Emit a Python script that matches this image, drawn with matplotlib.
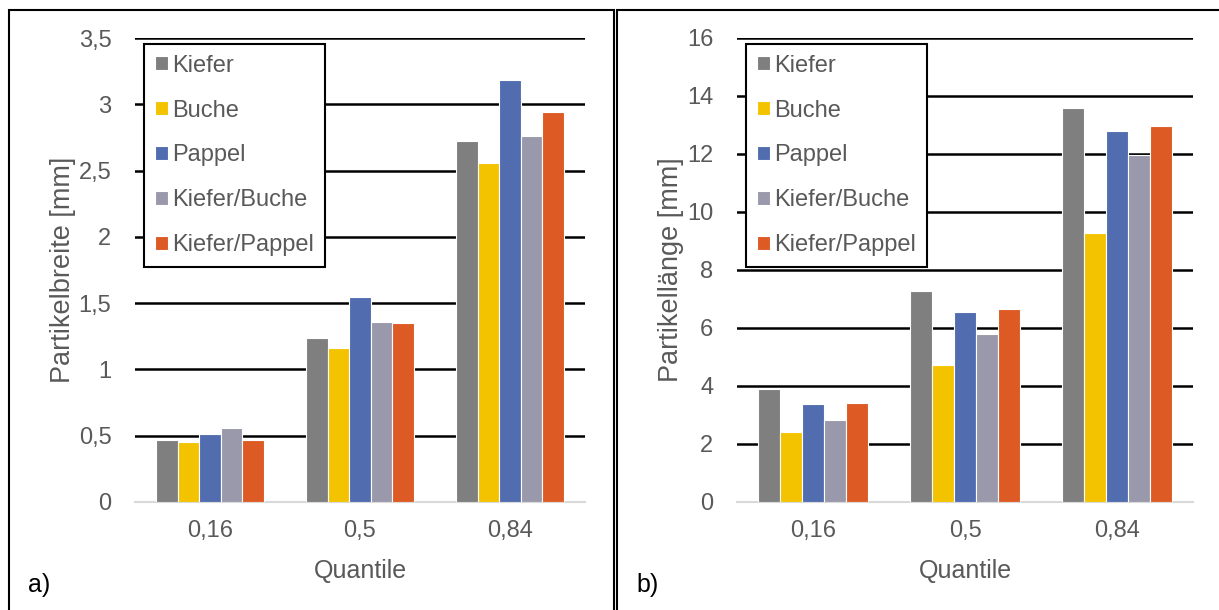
import matplotlib
matplotlib.use("Agg")
import matplotlib.pyplot as plt
from matplotlib.patches import Rectangle
import numpy as np

plt.rcParams["font.family"] = ["Liberation Sans", "DejaVu Sans"]

quantiles = ["0,16", "0,5", "0,84"]
series = ["Kiefer", "Buche", "Pappel", "Kiefer/Buche", "Kiefer/Pappel"]
colors = ["#7F7F7F", "#F4C300", "#516DB0", "#9999AB", "#DE5A24"]

# Partikelbreite [mm], one list per series over the quantiles
breite_kiefer = [0.47, 1.24, 2.72]
breite_buche = [0.45, 1.16, 2.56]
breite_pappel = [0.51, 1.55, 3.18]
breite_kb = [0.56, 1.36, 2.76]
breite_kp = [0.465, 1.35, 2.94]

# Partikellänge [mm]
laenge_kiefer = [3.9, 7.27, 13.6]
laenge_buche = [2.42, 4.72, 9.28]
laenge_pappel = [3.38, 6.55, 12.8]
laenge_kb = [2.82, 5.79, 11.98]
laenge_kp = [3.42, 6.65, 12.98]

TEXT = "#595959"


def draw_panel(ax, values, ymax, ystep, ylabel, fmt):
    x = np.arange(len(quantiles))
    n = len(series)
    w = 0.72 / n
    for i, (name, vals) in enumerate(zip(series, values)):
        ax.bar(x - 0.36 + w * (i + 0.5), vals, width=w, color=colors[i],
               edgecolor="white", linewidth=0.8, label=name, zorder=3)
    ax.set_xlim(-0.5, len(quantiles) - 0.5)
    ax.set_ylim(0, ymax)
    ticks = np.arange(0, ymax + ystep / 2, ystep)
    ax.set_yticks(ticks)
    ax.set_yticklabels([fmt(t) for t in ticks])
    ax.set_xticks(x)
    ax.set_xticklabels(quantiles)
    ax.tick_params(length=0, labelsize=17, colors=TEXT)
    ax.tick_params(axis="x", pad=13)
    ax.tick_params(axis="y", pad=17)
    for s in ["top", "right", "left"]:
        ax.spines[s].set_visible(False)
    ax.spines["bottom"].set_color("#D9D9D9")
    ax.spines["bottom"].set_linewidth(1.5)
    ax.yaxis.grid(True, color="black", linewidth=1.8)
    ax.set_axisbelow(True)
    ax.set_ylabel(ylabel, fontsize=19.5, color=TEXT, labelpad=2)
    ax.set_xlabel("Quantile", fontsize=18, color=TEXT, labelpad=12)
    leg = ax.legend(loc="upper left", bbox_to_anchor=(0.02, 0.987),
                    borderaxespad=0, fontsize=17, frameon=True, fancybox=False,
                    framealpha=1, handlelength=0.55, handleheight=0.55,
                    handletextpad=0.2, labelspacing=0.97, borderpad=0.45,
                    labelcolor=TEXT)
    leg.get_frame().set_edgecolor("black")
    leg.get_frame().set_linewidth(1.5)
    leg.set_zorder(5)


def fmt_breite(t):
    return f"{t:g}".replace(".", ",")


def fmt_laenge(t):
    return f"{t:.0f}"


fig = plt.figure(figsize=(12.19, 6.10), dpi=100)

ax1 = fig.add_axes([135 / 1219, 1 - 502 / 610, 450 / 1219, 464 / 610])
ax2 = fig.add_axes([737 / 1219, 1 - 502 / 610, 456 / 1219, 464 / 610])

draw_panel(ax1, [breite_kiefer, breite_buche, breite_pappel, breite_kb, breite_kp],
           3.5, 0.5, "Partikelbreite [mm]", fmt_breite)
draw_panel(ax2, [laenge_kiefer, laenge_buche, laenge_pappel, laenge_kb, laenge_kp],
           16, 2, "Partikellänge [mm]", fmt_laenge)

# panel frames
fig.patches.append(Rectangle((9 / 1219, -0.01), 605 / 1219, 1 - 10 / 610 + 0.01,
                             transform=fig.transFigure, fill=False,
                             edgecolor="black", linewidth=1.5))
fig.patches.append(Rectangle((617 / 1219, -0.01), 0.6, 1 - 10 / 610 + 0.01,
                             transform=fig.transFigure, fill=False,
                             edgecolor="black", linewidth=1.5))

fig.text(28 / 1219, 1 - 585 / 610, "a)", fontsize=18, va="center", ha="left")
fig.text(636 / 1219, 1 - 585 / 610, "b)", fontsize=18, va="center", ha="left")

fig.savefig("out.png", dpi=100)
